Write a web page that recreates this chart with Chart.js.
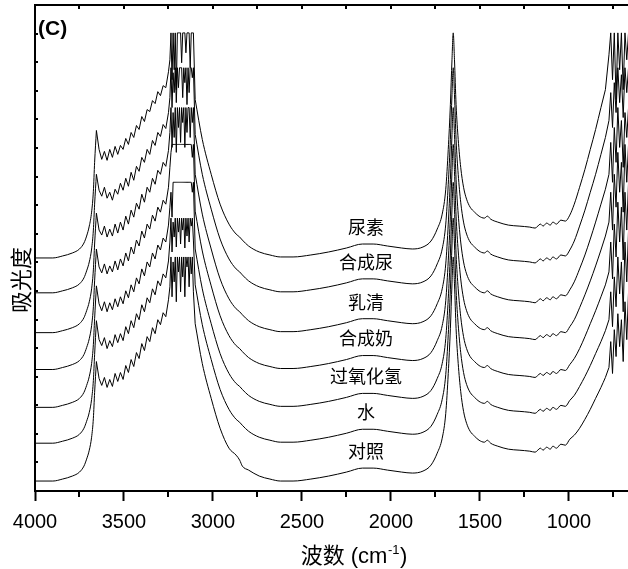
<!DOCTYPE html>
<html>
<head>
<meta charset="utf-8">
<script src="https://cdn.jsdelivr.net/npm/chart.js@4.4.1/dist/chart.umd.min.js"></script>
<style>
  html, body { margin: 0; padding: 0; background: #fff; overflow: hidden; }
  #wrap { width: 628px; height: 569px; }
</style>
</head>
<body>
<div id="wrap"><canvas id="c" width="628" height="569"></canvas></div>
<script>
// Wavenumber grid (cm^-1), shared by all traces
const wavenumber = [
  4000,3900,3845,3790,3750,3725,3710,3695,3682,3672,3665,3655,
  3640,3625,3610,3595,3580,3565,3550,3535,3520,3505,3490,3475,3460,3445,3430,3415,3400,3385,3370,3355,3340,3325,3310,3295,3280,3265,3250,
  3242,3236,3230,3224,3218,3212,3206,3200,3194,3188,3182,3176,3170,3164,3158,3152,3146,3140,3134,3128,3122,3116,3110,
  3100,3060,3010,2960,2910,2870,2850,2835,2800,2740,2680,2620,2550,2450,2350,2250,2160,2100,2020,1940,1880,1820,1775,1740,1712,1692,1678,1666,1657,1650,1643,1634,1622,1608,1592,1575,1555,1530,1505,1475,1458,1440,1400,1340,1280,1220,1190,1160,1145,1125,1105,1090,1070,1045,1020,995,970,940,910,880,850,820,795,
  775,765,755,745,735,725,715,705,695,685,675,665
];

// Stacked absorbance traces (arbitrary units, offset for display)
const urea = [
  234,234,236,239,243,249,256,266,280,301,330,362,
  343,333,341,332,343,335,346,338,347,343,354,348,360,355,367,363,376,371,383,381,392,389,401,397,407,405,421,
  433,460,413,460,423,460,403,460,460,460,460,430,460,460,460,440,460,460,460,425,460,460,460,
  393,353,318,288,268,258,255,252,246,240,237,235,235,237,240,244,248,248,246,244,243,245,251,263,278,303,343,388,433,460,433,388,353,325,305,293,285,280,276,274,276,273,270,267,266,265,264,268,266,269,267,270,268,272,271,277,288,305,323,343,363,385,403,
  438,460,413,460,393,460,423,460,403,460,433,460
];
const synthUrine = [
  199,199,201,204,208,214,221,230,243,262,288,318,
  302,296,305,294,300,292,303,298,309,302,314,306,320,312,326,321,335,330,343,338,352,347,360,356,368,364,380,
  395,425,385,420,400,425,390,425,405,425,425,425,395,425,410,425,388,425,400,425,425,415,425,
  358,318,283,253,233,223,220,217,211,205,202,200,200,202,205,209,213,213,211,209,208,210,216,228,243,268,308,353,398,425,398,353,318,290,270,258,250,245,241,239,241,238,235,232,231,230,229,233,231,234,232,235,233,237,236,242,251,266,282,300,318,338,355,
  372,400,365,410,380,425,390,418,375,425,400,425
];
const whey = [
  159,159,161,164,168,174,181,190,203,222,248,279,
  262,257,266,255,263,256,268,259,270,262,276,268,282,275,289,283,298,290,305,300,314,308,322,318,330,326,342,
  360,385,345,380,355,385,340,385,365,385,350,385,370,385,345,385,360,385,385,355,385,370,385,
  318,278,243,213,193,183,180,177,171,165,162,160,160,162,165,169,173,173,171,169,168,170,176,188,203,228,268,313,358,385,358,313,278,250,230,218,210,205,201,199,201,198,195,192,191,190,189,193,191,194,192,195,193,197,196,202,210,223,237,253,270,288,303,
  318,350,310,365,330,385,345,372,325,380,355,385
];
const synthMilk = [
  122,122,124,127,131,137,144,153,166,185,211,243,
  225,219,228,218,226,220,231,222,233,226,239,231,245,238,252,246,261,254,268,263,277,271,285,280,292,288,305,
  325,340,348,348,348,348,348,348,348,348,348,348,348,348,348,348,348,348,348,348,348,335,348,
  281,241,206,176,156,146,143,140,134,128,125,123,123,125,128,132,136,136,134,132,131,133,139,151,166,191,231,276,321,348,321,276,241,213,193,181,173,168,164,162,164,161,158,155,154,153,152,156,154,157,155,158,156,160,159,165,172,184,197,211,226,242,256,
  270,300,262,318,285,340,300,330,280,348,310,348
];
const peroxide = [
  84,84,86,89,93,99,106,115,128,147,173,206,
  188,181,190,180,189,182,193,185,195,188,201,194,207,200,214,208,223,216,230,225,239,233,247,242,254,250,267,
  285,300,275,310,310,310,310,310,310,310,310,310,310,310,310,310,310,310,310,310,310,300,310,
  243,203,168,138,118,108,105,102,96,90,87,85,85,87,90,94,98,98,96,94,93,95,101,113,128,153,193,238,283,310,283,238,203,175,155,143,135,130,126,124,126,123,120,117,116,115,114,118,116,119,117,120,118,122,121,127,133,143,155,168,181,195,207,
  220,250,213,268,235,290,250,285,232,300,262,310
];
const water = [
  48,48,50,53,57,63,70,79,92,111,137,171,
  152,146,154,143,151,145,157,149,158,151,165,158,171,164,178,172,187,180,194,189,203,197,211,206,218,214,231,
  250,274,240,270,255,274,245,274,260,274,248,274,262,274,244,274,256,274,250,274,266,274,252,
  207,167,132,102,82,72,69,66,60,54,51,49,49,51,54,58,62,62,60,58,57,59,65,77,92,117,157,202,247,274,247,202,167,139,119,107,99,94,90,88,90,87,84,81,80,79,78,82,80,83,81,84,82,86,85,91,96,105,115,126,138,150,161,
  172,200,165,215,185,235,198,230,180,250,210,262
];
const control = [
  10,10,12,15,19,25,32,41,54,73,99,130,
  113,106,114,104,112,105,118,110,119,112,126,119,132,125,139,133,148,141,155,150,164,158,172,167,179,175,192,
  205,235,195,230,210,235,190,235,220,235,200,235,215,235,195,235,225,235,205,235,218,235,200,
  168,128,93,63,43,36,31,25,21,15,12,10,10,12,15,19,23,23,21,19,18,20,26,38,53,78,118,163,208,235,208,163,128,100,80,68,60,55,51,49,51,48,45,42,41,40,39,43,41,44,42,45,43,47,46,52,56,63,72,82,93,104,114,
  124,150,118,162,135,178,145,172,130,190,152,200
];

const seriesNames = ['尿素', '合成尿', '乳清', '合成奶', '过氧化氢', '水', '对照'];
const seriesValues = [urea, synthUrine, whey, synthMilk, peroxide, water, control];
const xTickValues = [4000, 3500, 3000, 2500, 2000, 1500, 1000];
const xMinorTicks = [3750, 3250, 2750, 2250, 1750, 1250, 750];
const noisyRanges = [[11, 62], [124, 136]]; // index ranges of the noisy (saturated) regions
const xTitle = '波数 (cm';
const xTitleSup = '-1';
const yTitle = '吸光度';
const panelLabel = '(C)';
const labelAt = 2160;

const inNoisy = i => noisyRanges.some(([a, b]) => i >= a && i <= b);
const inSmooth = i => !noisyRanges.some(([a, b]) => i > a && i < b);

const datasets = [];
seriesValues.forEach((vals, k) => {
  datasets.push({
    label: seriesNames[k],
    data: wavenumber.map((w, i) => ({ x: w, y: inSmooth(i) ? vals[i] : null })),
    borderColor: '#000', borderWidth: 1, pointRadius: 0,
    cubicInterpolationMode: 'monotone', spanGaps: false, fill: false
  });
  datasets.push({
    label: seriesNames[k] + ' (noise)',
    data: wavenumber.map((w, i) => ({ x: w, y: inNoisy(i) ? vals[i] : null })),
    borderColor: '#000', borderWidth: 1, pointRadius: 0,
    tension: 0, spanGaps: false, fill: false
  });
});

const decor = {
  id: 'decor',
  afterDraw(chart) {
    const { ctx, chartArea: ca, scales } = chart;
    const xs = scales.x, ys = scales.y;
    ctx.save();
    ctx.strokeStyle = '#000';
    ctx.fillStyle = '#000';
    ctx.lineWidth = 2;
    // top frame
    ctx.beginPath();
    ctx.moveTo(ca.left - 1, ca.top);
    ctx.lineTo(ca.right + 2, ca.top);
    ctx.stroke();
    ctx.beginPath();
    // bottom minor ticks (outward)
    xMinorTicks.forEach(v => {
      const p = Math.round(xs.getPixelForValue(v));
      ctx.moveTo(p, ca.bottom);
      ctx.lineTo(p, ca.bottom + 6);
    });
    // top ticks (inward)
    xTickValues.concat(xMinorTicks).forEach(v => {
      const p = Math.round(xs.getPixelForValue(v));
      ctx.moveTo(p, ca.top);
      ctx.lineTo(p, ca.top + 4);
    });
    // left ticks (inward)
    for (let v = 28.7; v < ys.max; v += 28.7) {
      const p = Math.round(ys.getPixelForValue(v));
      ctx.moveTo(ca.left, p);
      ctx.lineTo(ca.left + 3, p);
    }
    ctx.stroke();

    // series labels
    ctx.font = '18px "Noto Sans CJK SC"';
    ctx.textAlign = 'center';
    ctx.textBaseline = 'middle';
    const idx = wavenumber.indexOf(labelAt);
    seriesValues.forEach((vals, k) => {
      const yp = ys.getPixelForValue(vals[idx] + 17);
      ctx.fillText(seriesNames[k], xs.getPixelForValue(2140), yp);
    });

    // panel label
    ctx.font = 'bold 21px "Liberation Sans"';
    ctx.textAlign = 'left';
    ctx.fillText(panelLabel, 38, 29);

    // x title with superscript
    const mainFont = '22px "Liberation Sans", "Noto Sans CJK SC"';
    const supFont = '13px "Liberation Sans"';
    ctx.font = mainFont;
    const w1 = ctx.measureText(xTitle).width;
    const w3 = ctx.measureText(')').width;
    ctx.font = supFont;
    const w2 = ctx.measureText(xTitleSup).width;
    const total = w1 + w2 + 1 + w3;
    let xp = 354 - total / 2;
    const yb = 563;
    ctx.textAlign = 'left';
    ctx.textBaseline = 'alphabetic';
    ctx.font = mainFont;
    ctx.fillText(xTitle, xp, yb);
    xp += w1 + 0.5;
    ctx.font = supFont;
    ctx.fillText(xTitleSup, xp, yb - 9);
    xp += w2 + 0.5;
    ctx.font = mainFont;
    ctx.fillText(')', xp, yb);

    // y title
    ctx.save();
    ctx.translate(21, 280);
    ctx.rotate(-Math.PI / 2);
    ctx.font = '22px "Noto Sans CJK SC"';
    ctx.textAlign = 'center';
    ctx.textBaseline = 'middle';
    ctx.fillText(yTitle, 0, 0);
    ctx.restore();
    ctx.restore();
  }
};

new Chart(document.getElementById('c'), {
  type: 'line',
  data: { datasets },
  options: {
    responsive: false,
    animation: false,
    layout: { padding: { left: 35, top: 5, right: 0, bottom: 26 } },
    plugins: { legend: { display: false }, tooltip: { enabled: false } },
    scales: {
      x: {
        type: 'linear',
        reverse: true,
        min: 668,
        max: 4000,
        afterBuildTicks: s => { s.ticks = xTickValues.map(v => ({ value: v })); },
        ticks: {
          color: '#000', font: { family: 'Liberation Sans', size: 20 }, padding: 9,
          maxRotation: 0, autoSkip: false, callback: v => String(v)
        },
        grid: { drawOnChartArea: false, drawTicks: true, tickLength: 10, tickWidth: 2, tickColor: '#000' },
        border: { display: true, color: '#000', width: 2 }
      },
      y: {
        min: 0,
        max: 488,
        ticks: { display: false },
        grid: { drawOnChartArea: false, drawTicks: false },
        border: { display: true, color: '#000', width: 2 }
      }
    }
  },
  plugins: [decor]
});
</script>
</body>
</html>
